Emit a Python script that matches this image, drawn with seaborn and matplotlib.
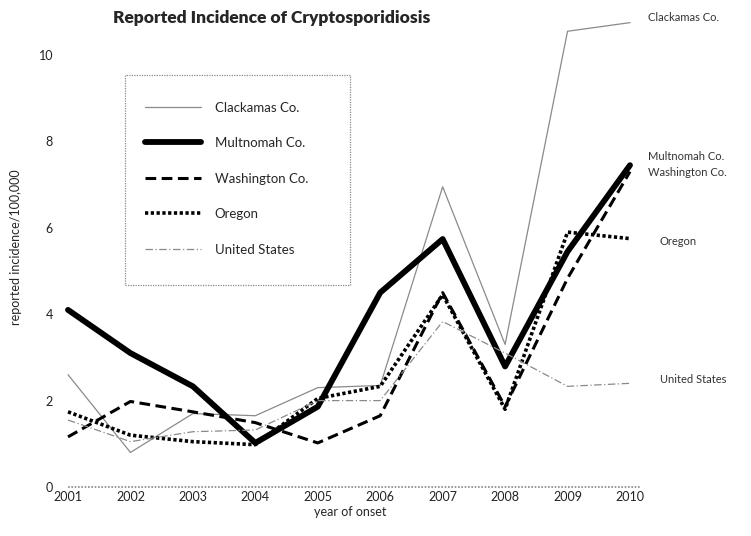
import numpy as np
import pandas as pd
import matplotlib
matplotlib.use('Agg')
import matplotlib.pyplot as plt
import seaborn as sns
from matplotlib.patches import Rectangle

# Data
years = [2001, 2002, 2003, 2004, 2005, 2006, 2007, 2008, 2009, 2010]
clackamas = [2.6, 0.8, 1.7, 1.65, 2.3, 2.35, 6.95, 3.3, 10.55, 10.75]
multnomah = [4.1, 3.1, 2.33, 1.02, 1.86, 4.5, 5.74, 2.79, 5.45, 7.45]
washington = [1.16, 1.98, 1.74, 1.49, 1.02, 1.65, 4.5, 1.86, 4.83, 7.3]
oregon = [1.74, 1.2, 1.05, 0.98, 2.05, 2.33, 4.45, 1.8, 5.9, 5.75]
united_states = [1.55, 1.05, 1.28, 1.32, 2.0, 2.0, 3.83, 3.1, 2.33, 2.4]

series_names = ['Clackamas Co.', 'Multnomah Co.', 'Washington Co.', 'Oregon', 'United States']
series_values = [clackamas, multnomah, washington, oregon, united_states]

df = pd.DataFrame({'year': years * 5,
                   'incidence': sum(series_values, []),
                   'area': np.repeat(series_names, len(years))})

sns.set_style('white')
plt.rcParams['font.family'] = ['Lato', 'DejaVu Sans']

fig = plt.figure(figsize=(7.51, 5.36), dpi=100)
W, H = 751, 536
ax = fig.add_axes([60 / W, 49 / H, 580 / W, 479.5 / H])

styles = {
    'Clackamas Co.': dict(color='#8a8a8a', linewidth=0.9, linestyle='-'),
    'Multnomah Co.': dict(color='black', linewidth=4.2, linestyle='-'),
    'Washington Co.': dict(color='black', linewidth=2.2, linestyle=(0, (3.5, 1.8))),
    'Oregon': dict(color='black', linewidth=2.6, linestyle=(0, (0.9, 0.7))),
    'United States': dict(color='#8a8a8a', linewidth=0.9, linestyle=(0, (6, 2, 1, 2))),
}

for name in series_names:
    sub = df[df['area'] == name]
    sns.lineplot(data=sub, x='year', y='incidence', ax=ax, label=name,
                 clip_on=False, **styles[name])

ax.set_xlim(2001 - 8 / 62.4, 2010 + 10 / 62.4)
ax.set_ylim(0, 11.1)
sns.despine(ax=ax, left=True, bottom=True)
ax.set_xticks(years)
ax.set_xticklabels([str(y) for y in years])
ax.set_yticks([0, 2, 4, 6, 8, 10])
ax.tick_params(axis='both', length=0, labelsize=9, colors='#222222')
ax.tick_params(axis='x', pad=3)
ax.tick_params(axis='y', pad=5)
ax.set_xlabel('year of onset', fontsize=9, labelpad=2)
ax.set_ylabel('reported incidence/100,000', fontsize=9, labelpad=12)

# dotted baseline at zero
ax.axhline(0, xmin=8 / 580, xmax=1, color='#888888', linewidth=1.2,
           linestyle=(0, (1, 1)), clip_on=False, zorder=0)

# direct labels on the right
right_labels = [('Clackamas Co.', 2010.29, 10.86),
                ('Multnomah Co.', 2010.29, 7.64),
                ('Washington Co.', 2010.29, 7.27),
                ('Oregon', 2010.48, 5.69),
                ('United States', 2010.48, 2.48)]
for txt, x, y in right_labels:
    ax.text(x, y, txt, fontsize=8, color='#333333', va='center', ha='left', clip_on=False)

# legend with dotted frame
leg = ax.legend(loc='upper left', bbox_to_anchor=(138 / W, 1 - 95 / H),
                bbox_transform=fig.transFigure, frameon=False, fontsize=9.5,
                handlelength=4.3, handletextpad=1.0, labelspacing=1.78,
                borderpad=0)
fig.patches.append(Rectangle((125 / W, 1 - 285 / H), 225 / W, 210 / H,
                             transform=fig.transFigure, fill=False,
                             edgecolor='#888888', linewidth=0.9,
                             linestyle=(0, (1, 1))))

fig.text(272 / W, 1 - 18 / H, 'Reported Incidence of Cryptosporidiosis',
         fontsize=12.5, fontweight='heavy', ha='center', va='center')

fig.savefig('out.png', dpi=100)
